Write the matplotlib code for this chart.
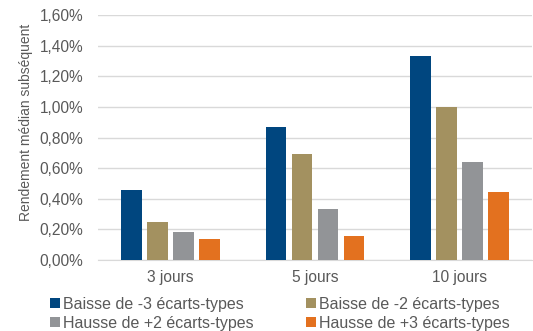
import numpy as np
import matplotlib
matplotlib.use("Agg")
import matplotlib.pyplot as plt
from matplotlib.ticker import FuncFormatter

horizons = ["3 jours", "5 jours", "10 jours"]
series_names = ["Baisse de -3 écarts-types", "Baisse de -2 écarts-types",
                "Hausse de +2 écarts-types", "Hausse de +3 écarts-types"]
baisse_3 = [0.457, 0.867, 1.332]
baisse_2 = [0.250, 0.690, 1.001]
hausse_2 = [0.185, 0.335, 0.640]
hausse_3 = [0.139, 0.155, 0.444]
colors = ["#00467F", "#A39160", "#929497", "#E3711F"]

plt.rcParams['font.family'] = ['Liberation Sans', 'DejaVu Sans']
txt = "#595959"

fig = plt.figure(figsize=(5.33, 3.31), dpi=100)
ax = fig.add_axes([98 / 533, 1 - 260 / 331, 434 / 533, 245 / 331])

x = np.arange(len(horizons))
step = 0.18
width = 0.143
handles = []
for i, (vals, name) in enumerate(zip([baisse_3, baisse_2, hausse_2, hausse_3], series_names)):
    b = ax.bar(x + (i - 1.5) * step, vals, width, color=colors[i], label=name, zorder=3)
    handles.append(b)

ax.set_xlim(-0.5, 2.5)
ax.set_ylim(0, 1.6)
ax.set_yticks(np.arange(0, 1.61, 0.2))
ax.yaxis.set_major_formatter(FuncFormatter(lambda v, p: f"{v:.2f}%".replace(".", ",")))
ax.set_xticks(x)
ax.set_xticklabels(horizons)
ax.grid(axis="y", color="#D9D9D9", linewidth=1, zorder=0)
for s in ["top", "right", "left"]:
    ax.spines[s].set_visible(False)
ax.spines["bottom"].set_color("#D9D9D9")
ax.tick_params(axis="both", length=0, colors=txt, labelsize=11.2)
ax.tick_params(axis="x", pad=7)
ax.tick_params(axis="y", pad=10.5)
ax.set_ylabel("Rendement médian subséquent", color=txt, fontsize=10)
ax.yaxis.set_label_coords(-0.15, 0.56)

order = [0, 2, 1, 3]
fig.legend([handles[i] for i in order], [series_names[i] for i in order],
           ncol=2, loc="lower left", bbox_to_anchor=(50 / 533, 0.0),
           frameon=False, fontsize=11.5, labelcolor=txt,
           handlelength=0.6, handleheight=0.6, handletextpad=0.2,
           columnspacing=3.3, labelspacing=0.28, borderpad=0, borderaxespad=0)

fig.savefig("out.png", dpi=100)
